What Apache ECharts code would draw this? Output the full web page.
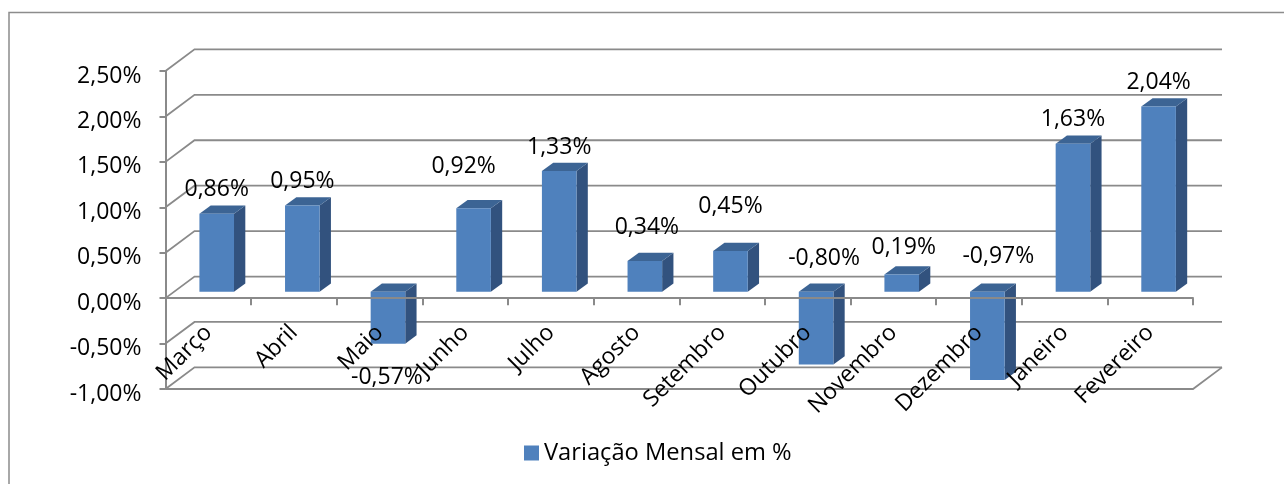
<!DOCTYPE html>
<html>
<head>
<meta charset="utf-8">
<style>
  html, body { margin: 0; padding: 0; background: #fff; }
  #chart { width: 1284px; height: 484px; }
</style>
<script src="https://cdn.jsdelivr.net/npm/echarts@6/dist/echarts.min.js"></script>
</head>
<body>
<div id="chart"></div>
<script>
const months = ["Março", "Abril", "Maio", "Junho", "Julho", "Agosto", "Setembro", "Outubro", "Novembro", "Dezembro", "Janeiro", "Fevereiro"];
const variacao = [0.86, 0.95, -0.57, 0.92, 1.33, 0.34, 0.45, -0.8, 0.19, -0.97, 1.63, 2.04];
const yTicks = [-1, -0.5, 0, 0.5, 1, 1.5, 2, 2.5];
const serieName = "Variação Mensal em %";

// deslocamento manual dos rótulos (o Excel não os põe todos no mesmo lugar)
const labelNudge = [[0, -24], [0, -24], [-1, 86], [-10, -42], [0, -24], [2, -33], [0, -45], [8, -33], [2, -27], [11, -35], [0, -24], [0, -24]];

const FONT = "Open Sans";
const GRID_COLOR = "#8a8a8a";
const FRONT = "#4f81bd", SIDE = "#32527e", TOP = "#3c6494";
// profundidade do "3D"
const WALL_DX = 29, WALL_DY = -21.6;
const BAR_DX = 8.4, BAR_DY = -6.3, DEPTH_DX = 11.3, DEPTH_DY = -8.3;

const fmt = (v) => v.toFixed(2).replace(".", ",") + "%";

function renderWall(params, api) {
  const cs = params.coordSys;
  const v = api.value(0);
  const y = api.coord([0, v])[1];
  const left = cs.x, right = cs.x + cs.width;
  const lineStyle = { stroke: GRID_COLOR, lineWidth: 1.8, fill: null };
  const children = [{
    type: "polyline",
    shape: { points: [[left, y], [left + WALL_DX, y + WALL_DY], [right + WALL_DX, y + WALL_DY]] },
    style: lineStyle,
  }];
  // chão do gráfico
  if (v === yTicks[0]) {
    children.push({
      type: "polyline",
      shape: { points: [[left, y], [right, y], [right + WALL_DX, y + WALL_DY]] },
      style: lineStyle,
    });
  }
  return { type: "group", children };
}

function renderBar(params, api) {
  const i = api.value(0);
  const top = api.coord([i, api.value(1)]);
  const zero = api.coord([i, 0]);
  const w = api.size([1, 0])[0] * 0.404;
  const x0 = top[0] + BAR_DX - w / 2, x1 = x0 + w;
  const y0 = Math.min(top[1], zero[1]) + BAR_DY;
  const y1 = Math.max(top[1], zero[1]) + BAR_DY;
  return {
    type: "group",
    children: [
      {
        type: "polygon",
        shape: { points: [[x1, y0], [x1 + DEPTH_DX, y0 + DEPTH_DY], [x1 + DEPTH_DX, y1 + DEPTH_DY], [x1, y1]] },
        style: { fill: SIDE },
      },
      {
        type: "polygon",
        shape: { points: [[x0, y0], [x0 + DEPTH_DX, y0 + DEPTH_DY], [x1 + DEPTH_DX, y0 + DEPTH_DY], [x1, y0]] },
        style: { fill: TOP },
      },
      { type: "rect", shape: { x: x0, y: y0, width: w, height: y1 - y0 }, style: { fill: FRONT } },
    ],
  };
}

function renderLabel(params, api) {
  const i = api.value(0);
  const v = api.value(1);
  const p = api.coord([i, Math.max(v, 0)]);
  const nudge = labelNudge[i];
  return {
    type: "text",
    style: {
      x: p[0] + BAR_DX + nudge[0],
      y: p[1] + BAR_DY + nudge[1],
      text: fmt(v),
      font: "23px '" + FONT + "'",
      fill: "#000",
      align: "center",
      verticalAlign: "middle",
    },
  };
}

const chart = echarts.init(document.getElementById("chart"));
chart.setOption({
  animation: false,
  backgroundColor: "#fff",
  textStyle: { fontFamily: FONT },
  graphic: [{
    type: "polyline",
    shape: { points: [[9, 484], [9, 12.5], [1284, 12.5]] },
    style: { stroke: "#8c8c8c", lineWidth: 1.5, fill: null },
  }],
  grid: { left: 165.5, right: 91, top: 71, bottom: 95, outerBoundsMode: "none" },
  legend: {
    left: 519,
    top: 436,
    data: [{ name: serieName, icon: "rect", itemStyle: { color: FRONT } }],
    itemWidth: 15,
    itemHeight: 15,
    itemGap: 7,
    textStyle: { fontSize: 23.7, fontFamily: FONT, color: "#000" },
  },
  xAxis: {
    type: "category",
    data: months,
    z: 5,
    axisLine: { onZero: true, lineStyle: { color: GRID_COLOR, width: 2 } },
    axisTick: { show: true, length: 7, lineStyle: { color: GRID_COLOR, width: 2 } },
    axisLabel: { rotate: 45, margin: -60, interval: 0, fontSize: 23, color: "#000" },
  },
  yAxis: {
    type: "value",
    min: -1,
    max: 2.5,
    interval: 0.5,
    z: 5,
    splitLine: { show: false },
    axisLine: { show: true, lineStyle: { color: GRID_COLOR, width: 2 } },
    axisTick: { show: true, length: 6, lineStyle: { color: GRID_COLOR, width: 2 } },
    axisLabel: {
      margin: 24,
      formatter: (v) => "{t|" + fmt(v) + "}",
      rich: { t: { fontSize: 23, color: "#000", fontFamily: FONT, lineHeight: 33, verticalAlign: "bottom" } },
    },
  },
  series: [
    {
      type: "custom",
      silent: true,
      z: 1,
      clip: false,
      renderItem: renderWall,
      data: yTicks.map((v) => [v]),
      encode: { y: 0 },
    },
    {
      name: serieName,
      type: "custom",
      z: 2,
      clip: false,
      renderItem: renderBar,
      itemStyle: { color: FRONT },
      data: variacao.map((v, i) => [i, v]),
      encode: { x: 0, y: 1 },
    },
    {
      type: "custom",
      silent: true,
      z: 6,
      clip: false,
      renderItem: renderLabel,
      data: variacao.map((v, i) => [i, v]),
      encode: { x: 0, y: 1 },
    },
  ],
});
</script>
</body>
</html>
